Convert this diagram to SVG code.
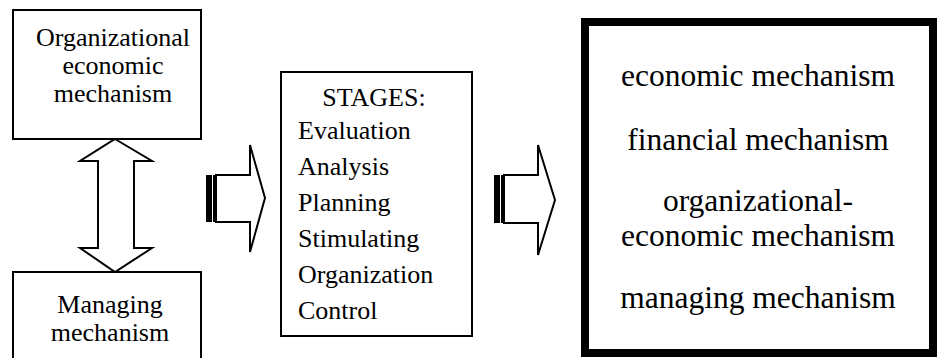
<svg xmlns="http://www.w3.org/2000/svg" width="939" height="358" viewBox="0 0 939 358">
<style>
  .box { fill: #fff; stroke: #000; stroke-width: 2; }
  .thick { fill: #fff; stroke: #000; stroke-width: 8; }
  .arrow { fill: #fff; stroke: #000; stroke-width: 2; stroke-linejoin: miter; }
  .t1 { font-family: 'Liberation Serif', serif; font-size: 26px; text-anchor: middle; fill: #000; }
  .t2 { font-family: 'Liberation Serif', serif; font-size: 26px; fill: #000; }
  .t3 { font-family: 'Liberation Serif', serif; font-size: 31.5px; text-anchor: middle; fill: #000; }
</style>
<rect width="939" height="358" fill="#fff"/>
<g id="node-org-econ">
  <rect class="box" x="13" y="10" width="188" height="129"/>
  <text class="t1" x="113" y="46">Organizational</text>
  <text class="t1" x="113" y="74">economic</text>
  <text class="t1" x="113" y="102">mechanism</text>
</g>
<g id="node-managing">
  <rect class="box" x="13" y="272" width="188" height="100"/>
  <text class="t1" x="110" y="313">Managing</text>
  <text class="t1" x="110" y="341">mechanism</text>
</g>
<g id="node-stages">
  <rect class="box" x="281" y="72" width="191" height="264"/>
  <text class="t2" x="374" y="106" text-anchor="middle">STAGES:</text>
  <text class="t2" x="298" y="139">Evaluation</text>
  <text class="t2" x="298" y="175">Analysis</text>
  <text class="t2" x="298" y="211">Planning</text>
  <text class="t2" x="298" y="247">Stimulating</text>
  <text class="t2" x="298" y="283">Organization</text>
  <text class="t2" x="298" y="319">Control</text>
</g>
<g id="node-mechanisms">
  <rect class="thick" x="585" y="22" width="348" height="331"/>
  <text class="t3" x="758" y="86">economic mechanism</text>
  <text class="t3" x="758" y="150">financial mechanism</text>
  <text class="t3" x="758" y="211">organizational-</text>
  <text class="t3" x="758" y="246">economic mechanism</text>
  <text class="t3" x="758" y="308">managing mechanism</text>
</g>
<g id="connectors">
  <polygon class="arrow" points="115,139 152,161 134,161 134,248 152,248 115,272 80,248 98,248 98,161 80,161"/>
  <rect x="206" y="175" width="6" height="47" fill="#000"/>
  <rect x="213" y="175" width="2" height="47" fill="#000"/>
  <polygon class="arrow" points="216,175 250,175 250,145 265,198 250,252 250,222 216,222"/>
  <rect x="494" y="175" width="6" height="48" fill="#000"/>
  <rect x="501" y="175" width="2" height="48" fill="#000"/>
  <polygon class="arrow" points="504,175 538,175 538,145 555,200 538,255 538,223 504,223"/>
</g>
</svg>
